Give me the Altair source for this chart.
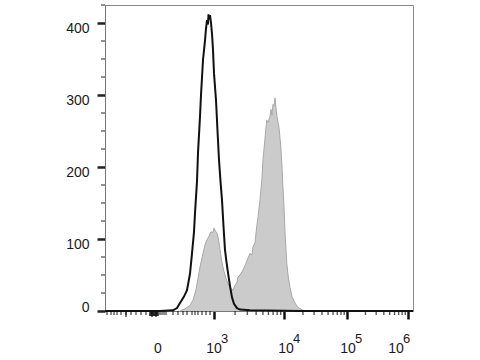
import altair as alt
import pandas as pd
import numpy as np

# Histogram data in display channels (0-1000 across the x axis)
black_ch = [0, 178.6, 220.8, 233.8, 243.5, 256.5, 266.2, 276.0, 282.5, 289.0, 292.2, 298.7, 301.9,
            308.4, 311.7, 318.2, 321.4, 324.7, 327.9, 331.2, 334.4, 336.0, 337.7, 340.9, 344.2,
            347.4, 350.6, 353.9, 360.4, 365.3, 370.1, 375.0, 379.9, 384.7, 389.6, 394.5, 399.4,
            405.8, 412.3, 418.8, 428.6, 438.3, 470.8, 633.0, 1000]
black_count = [0, 0, 1, 4, 11, 20, 29, 52, 80, 110, 136, 180, 219,
               270, 300, 349, 362, 376, 392, 404, 398, 412, 405, 411, 400,
               385, 363, 330, 293, 250, 210, 180, 154, 118, 85, 68, 53,
               35, 19, 10, 4, 2, 1, 0, 0]

gray_ch = [243.5, 259.7, 276.0, 285.7, 295.5, 301.9, 308.4, 318.2, 324.7, 331.2, 337.7, 344.2,
           350.6, 353.9, 358.8, 363.6, 368.5, 373.4, 379.9, 386.4, 392.9, 399.4, 405.8, 412.3,
           415.6, 422.1, 427.6, 431.8, 438.3, 448.1, 454.5, 461.0, 470.8, 477.3, 480.5, 487.0,
           492.5, 496.8, 503.2, 509.7, 513.0, 519.5, 525.0, 529.2, 535.7, 539.0, 542.2, 545.5,
           548.7, 552.0, 555.2, 558.4, 561.7, 565.0, 568.2, 571.4, 574.7, 578.0, 581.2, 584.4,
           590.0, 594.2, 600.6, 607.1, 616.9, 626.6, 642.9, 655.8]
gray_count = [0, 3, 8, 15, 30, 45, 61, 80, 92, 99, 104, 110,
              109, 115, 111, 108, 100, 85, 67, 55, 45, 38, 33, 30,
              29, 36, 39, 47, 50, 57, 63, 70, 80, 78, 89, 95,
              117, 130, 154, 185, 210, 240, 265, 262, 270, 280, 272, 287,
              285, 296, 282, 270, 262, 255, 240, 225, 200, 170, 145, 110,
              67, 50, 33, 20, 11, 5, 1, 0]

# Axis ticks
y_major = [0, 100, 200, 300, 400]
y_minor = [25, 50, 75, 125, 150, 175, 225, 250, 275, 325, 350, 375, 425]
x_major = [354, 581, 786, 984]
x_low_minor = [6.5, 19.5, 29.2, 39.0, 51.9, 68.2, 84.4, 100.6, 116.9, 133.1,
               178.6, 185.1, 191.6, 198.1, 220.8, 237.0, 253.3, 266.2,
               282.5, 292.2, 301.9, 314.9, 327.9, 340.9]
x_zero_cluster = [146.1, 149.4, 152.6, 155.8, 159.1, 162.3, 165.6, 168.8, 172.1]
x_low_long = [68.2, 152.6, 165.6]
x_decade_minor = [round(a + (b - a) * np.log10(k), 1)
                  for a, b in zip(x_major[:-1], x_major[1:]) for k in range(2, 10)]
x_minor = sorted(x_low_minor + x_decade_minor)

# Tick labels
base_text = ["0", "10", "10", "10", "10"]
base_ch = [172, 354, 588, 789, 945]
exp_text = ["3", "4", "5", "6"]
exp_ch = [354, 588, 789, 945]

FONT = "Liberation Sans"
W, H = 308, 306
xs = alt.Scale(domain=[0, 1000], nice=False, zero=False)
ys = alt.Scale(domain=[0, 425], nice=False)

x_axis = alt.Axis(
    values=x_major, labels=False, title=None, grid=False,
    domainColor="#777777", domainWidth=1, tickColor="#111111",
    tickSize=8, tickWidth=2.5,
)
y_axis = alt.Axis(
    values=y_major, title=None, grid=False,
    labelFont=FONT, labelFontSize=14, labelColor="#1a1a1a",
    labelOverlap=False, labelFlush=False, labelPadding=8,
    labelOffset={"condition": {"test": "datum.value == 0", "value": -4}, "value": 5},
    domainColor="#777777", domainWidth=1, tickColor="#222222",
    tickSize=8, tickWidth=2.5,
)

gray_df = pd.DataFrame({"ch": gray_ch, "count": gray_count})
black_df = pd.DataFrame({"ch": black_ch, "count": black_count})
base_df = pd.DataFrame({"ch": base_ch, "text": base_text})
exp_df = pd.DataFrame({"ch": exp_ch, "text": exp_text})
xminor_df = pd.DataFrame({"ch": x_minor})
xcluster_df = pd.DataFrame({"ch": x_zero_cluster})
xlong_df = pd.DataFrame({"ch": x_low_long})
yminor_df = pd.DataFrame({"count": y_minor})

area = alt.Chart(gray_df).mark_area(
    color="#cbcbcb", opacity=1, line={"color": "#a8a8a8", "strokeWidth": 1}
).encode(
    x=alt.X("ch:Q", scale=xs, axis=x_axis, title=None),
    y=alt.Y("count:Q", scale=ys, axis=y_axis, title=None),
)

line = alt.Chart(black_df).mark_line(color="#111111", strokeWidth=2).encode(
    x=alt.X("ch:Q", scale=xs, title=None),
    y=alt.Y("count:Q", scale=ys, title=None),
)

xminor = alt.Chart(xminor_df).mark_tick(
    orient="vertical", size=4, thickness=1.4, color="#111111"
).encode(
    x=alt.X("ch:Q", scale=xs, title=None),
    y=alt.value(H + 2),
)

xcluster = alt.Chart(xcluster_df).mark_tick(
    orient="vertical", size=5, thickness=2, color="#111111"
).encode(
    x=alt.X("ch:Q", scale=xs, title=None),
    y=alt.value(H + 2.5),
)

xlong = alt.Chart(xlong_df).mark_tick(
    orient="vertical", size=6, thickness=1.6, color="#111111"
).encode(
    x=alt.X("ch:Q", scale=xs, title=None),
    y=alt.value(H + 3),
)

yminor = alt.Chart(yminor_df).mark_tick(
    orient="horizontal", size=4, thickness=1.4, color="#222222"
).encode(
    y=alt.Y("count:Q", scale=ys, title=None),
    x=alt.value(-2),
)

base_labels = alt.Chart(base_df).mark_text(
    font=FONT, fontSize=14, color="#1a1a1a", align="center", baseline="middle"
).encode(
    x=alt.X("ch:Q", scale=xs, title=None),
    y=alt.value(H + 38),
    text="text:N",
)

exp_labels = alt.Chart(exp_df).mark_text(
    font=FONT, fontSize=13, color="#1a1a1a", align="left", baseline="middle", dx=7
).encode(
    x=alt.X("ch:Q", scale=xs, title=None),
    y=alt.value(H + 28),
    text="text:N",
)

chart = alt.layer(area, line, xminor, xcluster, xlong, yminor, base_labels, exp_labels).properties(
    width=W, height=H,
    autosize=alt.AutoSizeParams(type="none"),
    padding={"left": 105, "top": 5, "right": 67, "bottom": 49},
    background="white",
).configure_view(stroke="#888888", strokeWidth=1, clip=False)

chart.save("out.html", embed_options={"renderer": "svg", "actions": False})
